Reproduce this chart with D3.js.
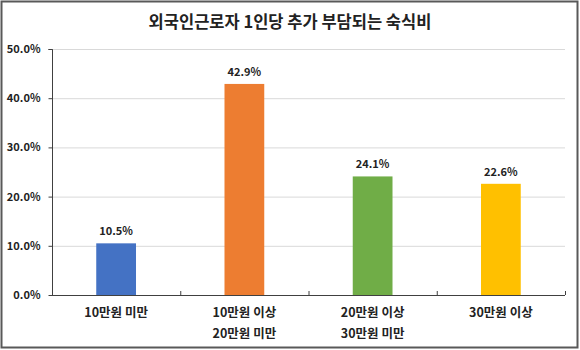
<!DOCTYPE html>
<html><head><meta charset="utf-8">
<script src="https://cdn.jsdelivr.net/npm/d3@7"></script>
<style>body{margin:0;background:#fff}svg{display:block}</style>
</head><body>
<svg id="c" width="580" height="350"></svg>
<script>
const title = "외국인근로자 1인당 추가 부담되는 숙식비";
const categories = [["10만원 미만"], ["10만원 이상", "20만원 미만"], ["20만원 이상", "30만원 미만"], ["30만원 이상"]];
const values = [10.5, 42.9, 24.1, 22.6];
const colors = ["#4472C4", "#ED7D31", "#70AD47", "#FFC000"];
const yTicks = [0, 10, 20, 30, 40, 50];

const svg = d3.select("#c");
const font = "'Malgun Gothic','Noto Sans CJK KR','Noto Sans',sans-serif";
svg.append("rect").attr("x", 1.5).attr("y", 1.5).attr("width", 576).attr("height", 346)
  .attr("fill", "#fff").attr("stroke", "#595959").attr("stroke-width", 2);

const m = {left: 52, right: 565, top: 49, bottom: 295};
const x = d3.scaleBand().domain(d3.range(categories.length)).range([m.left, m.right]).paddingInner(0.69).paddingOuter(0.345);
const y = d3.scaleLinear().domain([0, 50]).range([m.bottom, m.top]);

svg.append("text").attr("x", 290).attr("y", 28).attr("text-anchor", "middle")
  .attr("font-family", font).attr("font-size", 16.5).attr("font-weight", "bold").attr("fill", "#222").text(title);

// grid
svg.append("g").selectAll("line").data(yTicks.filter(d => d > 0)).join("line")
  .attr("x1", m.left).attr("x2", m.right).attr("y1", d => y(d) + 0.5).attr("y2", d => y(d) + 0.5)
  .attr("stroke", "#d9d9d9").attr("stroke-width", 1);

// y axis
const ya = svg.append("g").attr("transform", `translate(${m.left + 0.5},0)`)
  .call(d3.axisLeft(y).tickValues(yTicks).tickSize(4).tickPadding(8).tickFormat(d => d.toFixed(1) + "%"));
ya.select(".domain").attr("stroke", "#404040").attr("d", `M-4,${m.top + 0.5}H0V${m.bottom + 0.5}`);
ya.selectAll(".tick line").attr("stroke", "#404040");
ya.selectAll("text").attr("font-family", font).attr("font-size", 11).attr("font-weight", "bold").attr("fill", "#222");

// bars
svg.append("g").selectAll("rect").data(values).join("rect")
  .attr("x", (d, i) => x(i)).attr("width", x.bandwidth())
  .attr("y", d => y(d)).attr("height", d => y(0) - y(d))
  .attr("fill", (d, i) => colors[i]);

svg.append("g").selectAll("text").data(values).join("text")
  .attr("x", (d, i) => x(i) + x.bandwidth() / 2).attr("y", d => y(d) - 8)
  .attr("text-anchor", "middle").attr("font-family", font).attr("font-size", 11).attr("font-weight", "bold").attr("fill", "#222")
  .text(d => d.toFixed(1) + "%");

// x axis
const step = (m.right - m.left) / categories.length;
svg.append("line").attr("x1", m.left).attr("x2", m.right).attr("y1", m.bottom + 0.5).attr("y2", m.bottom + 0.5).attr("stroke", "#404040");
svg.append("g").selectAll("line").data(d3.range(1, categories.length + 1)).join("line")
  .attr("x1", i => m.left + step * i + 0.5).attr("x2", i => m.left + step * i + 0.5)
  .attr("y1", m.bottom).attr("y2", m.bottom - 4).attr("stroke", "#404040");

const cl = svg.append("g").selectAll("text").data(categories).join("text")
  .attr("text-anchor", "middle").attr("font-family", font).attr("font-size", 12.5).attr("font-weight", "bold").attr("fill", "#222");
cl.each(function(lines, i) {
  d3.select(this).selectAll("tspan").data(lines).join("tspan")
    .attr("x", x(i) + x.bandwidth() / 2).attr("y", (l, j) => 317 + j * 21).text(l => l);
});
</script>
</body></html>
